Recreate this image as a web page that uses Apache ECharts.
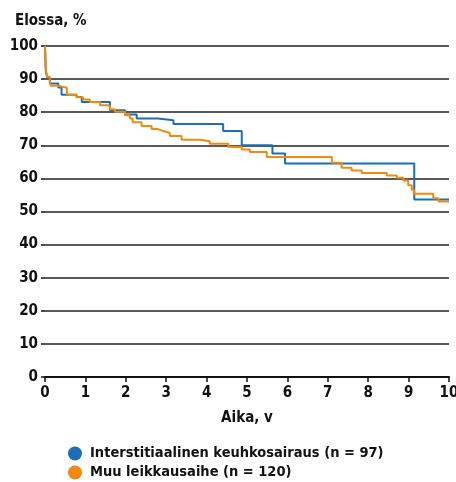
<!DOCTYPE html>
<html><head><meta charset="utf-8">
<script src="https://cdn.jsdelivr.net/npm/echarts@6/dist/echarts.min.js"></script>
<style>html,body{margin:0;padding:0;background:#fff}#c{width:456px;height:482px}</style>
</head><body><div id="c"></div>
<script>
const xTicks = [0,1,2,3,4,5,6,7,8,9,10];
const yTicks = [0,10,20,30,40,50,60,70,80,90,100];
const seriesNames = ['Interstitiaalinen keuhkosairaus (n = 97)', 'Muu leikkausaihe (n = 120)'];
const ildTime = [0, 0.02, 0.06, 0.12, 0.33, 0.41, 0.78, 0.91, 1.61, 1.98, 2.27, 2.8, 3.18, 4.41, 4.87, 5.63, 5.94, 9.14, 10];
const ildSurv = [100, 92.2, 90.5, 88.7, 87.5, 85.3, 84.6, 83.1, 80.6, 79.3, 78.1, 77.6, 76.4, 74.3, 70, 67.5, 64.5, 53.6, 53.6];
const otherTime = [0, 0.02, 0.05, 0.12, 0.14, 0.33, 0.54, 0.78, 0.94, 1.11, 1.36, 1.56, 1.61, 1.73, 1.98, 2.1, 2.17, 2.39, 2.64, 2.8, 2.93, 3.09, 3.38, 3.84, 4.08, 4.54, 4.87, 5.07, 5.49, 7.1, 7.34, 7.59, 7.84, 8.46, 8.71, 8.87, 8.99, 9.08, 9.13, 9.61, 9.74, 10];
const otherSurv = [100, 93, 90.7, 89.7, 88, 87.4, 85.3, 84.5, 83.8, 83.1, 82.1, 81.8, 80.9, 80.1, 79.1, 78.1, 77, 75.8, 74.9, 74.3, 73.7, 72.8, 71.7, 71.2, 70.5, 69.5, 68.7, 68, 66.5, 64.7, 63.2, 62.4, 61.6, 60.9, 60.2, 59.4, 57.9, 56.6, 55.4, 54, 53, 53];
const colors = ['#1b6fb4', '#f28a12'];
const FONT = '"DejaVu Sans Condensed", "DejaVu Sans", sans-serif';
const zip = (a, b) => a.map((v, i) => [v, b[i]]);
const legendText = {fontFamily: FONT, fontWeight: 'bold', fontSize: 14.5, color: '#111', padding: [0, 0, 0, 3]};
const chart = echarts.init(document.getElementById('c'), null, {renderer: 'canvas'});
chart.setOption({
  animation: false,
  textStyle: {fontFamily: FONT},
  title: {text: 'Elossa, %', left: 10, top: 9, textStyle: {fontFamily: FONT, fontWeight: 'bold', fontSize: 15, color: '#111'}},
  grid: {left: 45, right: 7, top: 46, bottom: 105, containLabel: false, outerBoundsMode: 'none'},
  legend: [
    {left: 63, top: 441, itemWidth: 14, itemHeight: 14, icon: 'circle', data: [seriesNames[0]], textStyle: legendText},
    {left: 63, top: 460, itemWidth: 14, itemHeight: 14, icon: 'circle', data: [seriesNames[1]], textStyle: legendText}
  ],
  xAxis: {
    type: 'value', min: xTicks[0], max: xTicks[xTicks.length-1], interval: 1,
    name: 'Aika, v', nameLocation: 'middle', nameGap: 34,
    nameTextStyle: {fontFamily: FONT, fontWeight: 'bold', fontSize: 15, color: '#111'},
    axisLine: {show: true, lineStyle: {color: '#111', width: 2}},
    axisTick: {show: true, length: 5, lineStyle: {color: '#111', width: 1.5}},
    axisLabel: {fontFamily: FONT, fontWeight: 'bold', fontSize: 15, color: '#111', margin: 9},
    splitLine: {show: false}
  },
  yAxis: {
    type: 'value', min: yTicks[0], max: yTicks[yTicks.length-1], interval: 10,
    axisLine: {show: false},
    axisTick: {show: true, length: 4, lineStyle: {color: '#111', width: 1.5}},
    axisLabel: {fontFamily: FONT, fontWeight: 'bold', fontSize: 15, color: '#111', margin: 7},
    splitLine: {show: true, lineStyle: {color: '#222', width: 1.5}}
  },
  series: [
    {name: seriesNames[0], type: 'line', step: 'end', showSymbol: false, symbol: 'none', data: zip(ildTime, ildSurv),
     lineStyle: {color: colors[0], width: 2}, itemStyle: {color: colors[0]}, z: 3},
    {name: seriesNames[1], type: 'line', step: 'end', showSymbol: false, symbol: 'none', data: zip(otherTime, otherSurv),
     lineStyle: {color: colors[1], width: 2}, itemStyle: {color: colors[1]}, z: 4}
  ]
});
</script></body></html>
